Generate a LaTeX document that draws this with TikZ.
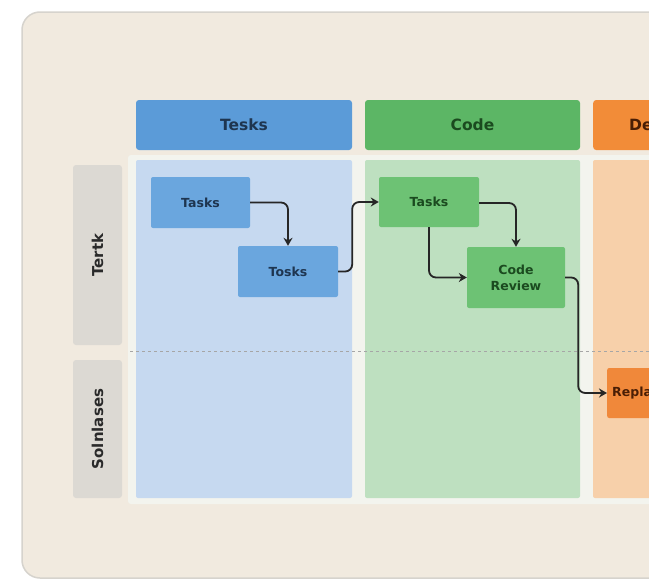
\documentclass[tikz,border=0pt]{standalone}
\usepackage{fontspec}
\setmainfont{DejaVu Sans}
\usetikzlibrary{arrows.meta,positioning}

\definecolor{cardbg}{HTML}{F1EADF}
\definecolor{cardline}{HTML}{D6D3CD}
\definecolor{bluehead}{HTML}{5B9BD8}
\definecolor{bluebody}{HTML}{C6D9F0}
\definecolor{bluenode}{HTML}{6AA6DE}
\definecolor{bluetext}{HTML}{1E3550}
\definecolor{greenhead}{HTML}{5CB665}
\definecolor{greenbody}{HTML}{BEE0C0}
\definecolor{greennode}{HTML}{6DC274}
\definecolor{greentext}{HTML}{1B4A1F}
\definecolor{orangehead}{HTML}{F28C38}
\definecolor{orangebody}{HTML}{F7D0AA}
\definecolor{orangenode}{HTML}{F0883A}
\definecolor{orangetext}{HTML}{4A1E05}
\definecolor{tabfill}{HTML}{DCD9D3}
\definecolor{tabtext}{HTML}{2A2A2A}
\definecolor{gapwhite}{HTML}{F3F4EE}

\tikzset{
  header/.style={rounded corners=3pt, minimum height=50pt, font=\bfseries\fontsize{15.5}{17}\selectfont},
  body/.style={rounded corners=2pt},
  task/.style={rounded corners=2pt, font=\bfseries\fontsize{12.5}{16}\selectfont, align=center, inner sep=0pt},
  rowtab/.style={fill=tabfill, rounded corners=3pt},
  rowtext/.style={rotate=90, font=\bfseries\fontsize{15}{17}\selectfont, text=tabtext},
  flow/.style={draw=black!85, line width=1.8pt, rounded corners=7pt, -{Stealth[length=8pt,width=9pt]}},
}

\begin{document}
\begin{tikzpicture}[x=1pt,y=-1pt]
\useasboundingbox (0,0) rectangle (649,581);
\clip (0,0) rectangle (649,581);

% card
\fill[white] (0,0) rectangle (649,581);
\draw[cardline, line width=1.5pt, fill=cardbg, rounded corners=18pt] (22,12) rectangle (680,578);

% light strip around the swimlanes
\fill[gapwhite, rounded corners=3pt] (128,155) rectangle (660,504);

% lane headers
\node[header, fill=bluehead, text=bluetext, minimum width=216pt] (hA) at (244,125) {Tesks};
\node[header, fill=greenhead, text=greentext, minimum width=215pt] (hB) at (472.5,125) {Code};
\node[header, fill=orangehead, minimum width=216pt, anchor=west] (hC) at (593,125) {};
\node[font=\bfseries\fontsize{15.5}{17}\selectfont, text=orangetext, anchor=west, inner sep=0pt] (hCt) at (629,126) {Deploy};

% lane bodies
\fill[body, bluebody] (136,160) rectangle (352,498);
\fill[body, greenbody] (365,160) rectangle (580,498);
\fill[body, orangebody] (593,160) rectangle (700,498);

% row labels
\fill[rowtab] (73,165) rectangle (122,345);
\node[rowtext] (r1) at (97.5,255) {Tertk};
\fill[rowtab] (73,360) rectangle (122,498);
\node[rowtext] (r2) at (97.5,429) {Solnlases};

% row divider
\draw[black!35, dashed, line width=0.6pt] (130,351.5) -- (649,351.5);

% tasks
\node[task, fill=bluenode, text=bluetext, minimum width=99pt, minimum height=51pt] (b1) at (200.5,202.5) {Tasks};
\node[task, fill=bluenode, text=bluetext, minimum width=100pt, minimum height=51pt] (b2) at (288,271.5) {Tosks};
\node[task, fill=greennode, text=greentext, minimum width=100pt, minimum height=50pt] (g1) at (429,202) {Tasks};
\node[task, fill=greennode, text=greentext, minimum width=98pt, minimum height=61pt] (g2) at (516,277.5) {Code\\Review};
\node[task, fill=orangenode, minimum width=60pt, minimum height=50pt, anchor=west] (o1) at (607,393) {};
\node[task, text=orangetext, anchor=west] (o1t) at (612,393) {Replace};

% connectors
\draw[flow] (b1.east) -| (b2.north);
\draw[flow] (b2.east) -- ++(14,0) |- (g1.west);
\draw[flow] ([yshift=-1pt]g1.east) -| (g2.north);
\draw[flow] (g1.south) |- (g2.west);
\draw[flow] (g2.east) -- ++(13,0) |- (o1.west);
\end{tikzpicture}
\end{document}
